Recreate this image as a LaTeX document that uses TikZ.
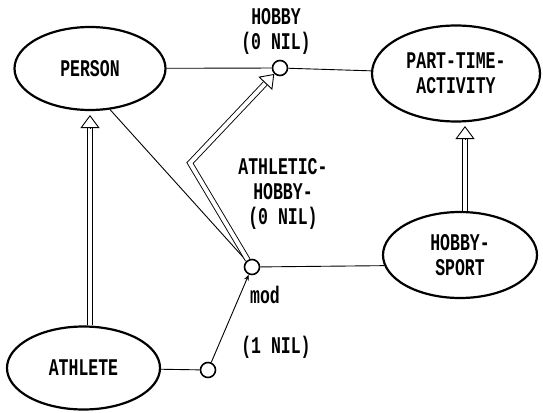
\documentclass[tikz,border=0pt]{standalone}
\usepackage{fontspec}
\usepackage{graphicx}
\newfontfamily\lblfont{Liberation Mono}
\usetikzlibrary{shapes.geometric,arrows.meta,calc}
\newcommand{\lblsize}{\lblfont\bfseries\fontsize{16.5}{25}\selectfont}
\newcommand{\tall}[1]{\scalebox{1}[1.45]{#1}}
\begin{document}
\begin{tikzpicture}[x=1pt,y=-1pt,
  ent/.style={ellipse, draw, line width=2.2pt, inner sep=0pt, font=\lblsize, align=center},
  att/.style={circle, draw, line width=1.6pt, minimum size=15pt, inner sep=0pt},
  conn/.style={line width=0.9pt},
  isa/.style={double, double distance=4pt, line width=0.9pt, shorten >=13pt},
  isahead/.style={-{Triangle[open, width=19pt, length=13pt, line width=0.9pt]}, line width=0.9pt},
  txt/.style={font=\lblsize, align=center, inner sep=0pt}]
\useasboundingbox (0,0) rectangle (543,412);

% entities
\node[ent, minimum width=151pt, minimum height=83pt] (person) at (90,68.5) {\tall{PERSON}};
\node[ent, minimum width=168pt, minimum height=96pt] (pta) at (456,73.5) {\tall{PART-TIME-}\\\tall{ACTIVITY}};
\node[ent, minimum width=154pt, minimum height=86pt] (hs) at (460,255) {\tall{HOBBY-}\\\tall{SPORT}};
\node[ent, minimum width=153pt, minimum height=83pt] (athlete) at (83.5,368) {\tall{ATHLETE}};

% attribute circles
\node[att] (hobby) at (280,68) {};
\node[att] (mod) at (252,267) {};
\node[att] (ath) at (208,370) {};
\coordinate (bend) at (190,163);
\coordinate (ptatip) at (465,126);
\coordinate (persontip) at (90,115);

% labels
\node[txt] (lhobby) at (276,31) {\tall{HOBBY}\\\tall{(0 NIL)}};
\node[txt] (lah) at (283,194) {\tall{ATHLETIC-}\\\tall{HOBBY-}\\\tall{(0 NIL)}};
\node[txt] (lmod) at (265,295) {\tall{mod}};
\node[txt] (lone) at (276,347) {\tall{(1 NIL)}};

% plain connectors
\draw[conn] (person) -- (hobby);
\draw[conn] (hobby) -- (pta);
\draw[conn] (person.-64) -- (mod);
\draw[conn] (mod) -- (hs.188);
\draw[conn] (athlete) -- (ath);
\draw[conn, -{Stealth[length=6pt,width=5pt]}] (ath) -- (mod);

% ISA double arrows
\draw[isa] (athlete.north -| persontip) -- (persontip);
\draw[isahead] ($(persontip)+(0,13)$) -- (persontip);
\draw[isa] (hs.north -| ptatip) -- (ptatip);
\draw[isahead] ($(ptatip)+(0,13)$) -- (ptatip);
\draw[isa] (mod.121) -- (bend) -- (hobby.226.5);
\draw[isahead] ($(hobby.226.5)!13pt!(bend)$) -- (hobby.226.5);
\end{tikzpicture}
\end{document}
